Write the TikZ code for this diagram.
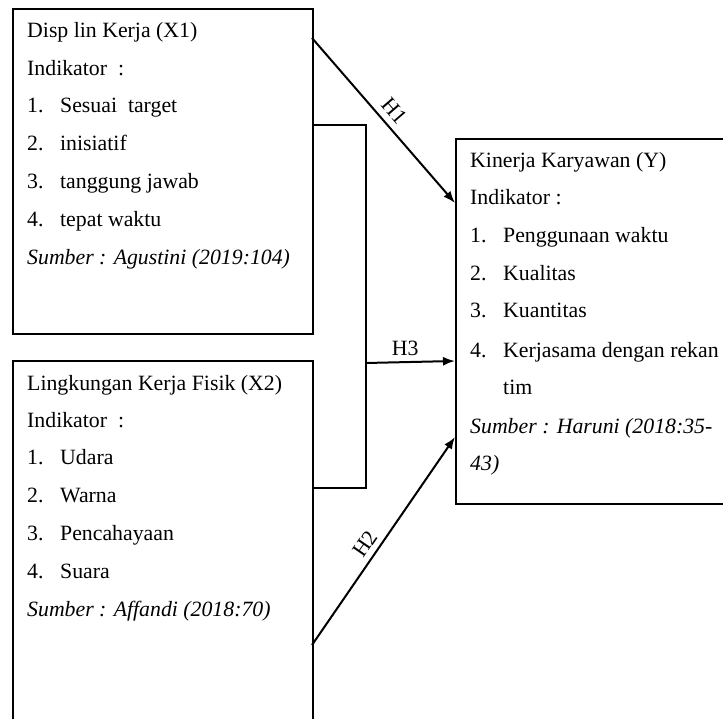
\documentclass[tikz,border=0pt]{standalone}
\usepackage{fontspec}
\setmainfont{Liberation Serif}
\usetikzlibrary{arrows.meta}
\begin{document}
\begin{tikzpicture}[x=1pt,y=-1pt,
  box/.style={draw,line width=2pt,inner sep=0pt,anchor=north west},
  txt/.style={anchor=base west,inner sep=0pt,font=\fontsize{21.8}{26}\selectfont},
  conn/.style={line width=2pt},
  arr/.style={line width=2pt,-{Latex[length=12pt,width=9pt]}},
  lbl/.style={inner sep=0pt,font=\fontsize{21.8}{26}\selectfont}]
\useasboundingbox (0,0) rectangle (723,719);
\clip (0,0) rectangle (723,719);
% boxes
\node[box,minimum width=300pt,minimum height=325pt] (x1) at (12,8) {};
\node[box,minimum width=300pt,minimum height=420pt] (x2) at (12,360) {};
\node[box,minimum width=300pt,minimum height=365pt] (yb) at (455,138) {};
% texts X1
\newcommand{\itm}[1]{\makebox[33pt][l]{#1}}
\node[txt] (a1) at (27,38) {Disp lin Kerja (X1)};
\node[txt] (a2) at (27,76) {Indikator\ \ :};
\node[txt] (a3) at (27,113) {\itm{1.}Sesuai\ \ target};
\node[txt] (a4) at (27,151) {\itm{2.}inisiatif};
\node[txt] (a5) at (27,189) {\itm{3.}tanggung jawab};
\node[txt] (a6) at (27,227) {\itm{4.}tepat waktu};
\node[txt] (a7) at (27,265) {\textit{Sumber : Agustini (2019:104)}};
% texts X2
\node[txt] (b1) at (27,390) {Lingkungan Kerja Fisik (X2)};
\node[txt] (b2) at (27,427) {Indikator\ \ :};
\node[txt] (b3) at (27,464) {\itm{1.}Udara};
\node[txt] (b4) at (27,502) {\itm{2.}Warna};
\node[txt] (b5) at (27,540) {\itm{3.}Pencahayaan};
\node[txt] (b6) at (27,578) {\itm{4.}Suara};
\node[txt] (b7) at (27,616) {\textit{Sumber : Affandi (2018:70)}};
% texts Y
\node[txt] (c1) at (470,168) {Kinerja Karyawan (Y)};
\node[txt] (c2) at (470,205) {Indikator :};
\node[txt] (c3) at (470,243) {\itm{1.}Penggunaan waktu};
\node[txt] (c4) at (470,281) {\itm{2.}Kualitas};
\node[txt] (c5) at (470,318) {\itm{3.}Kuantitas};
\node[txt] (c6) at (470,357) {\itm{4.}Kerjasama dengan rekan};
\node[txt] (c7) at (503,394) {tim};
\node[txt] (c8) at (470,433) {\textit{Sumber : Haruni (2018:35-}};
\node[txt] (c9) at (470,470) {\textit{43)}};
% connector points
\coordinate (h1s) at (312,38);
\coordinate (h1e) at (455,203);
\coordinate (h2s) at (312,645);
\coordinate (h2e) at (455,437);
\coordinate (k1) at (312,125);
\coordinate (k2) at (366,125);
\coordinate (k3) at (366,488);
\coordinate (k4) at (312,488);
\coordinate (h3s) at (366,363);
\coordinate (h3e) at (455,361);
% bracket
\draw[conn] (k1) -- (k2) -- (k3) -- (k4);
% arrows
\draw[arr] (h1s) -- (h1e) node[lbl,pos=0.5,sloped,above=6pt] (l1) {H1};
\draw[arr] (h2s) -- (h2e) node[lbl,pos=0.45,sloped,above=5pt] (l2) {H2};
\draw[arr] (h3s) -- (h3e) node[lbl,pos=0.44,above=5pt] (l3) {H3};
\end{tikzpicture}
\end{document}
